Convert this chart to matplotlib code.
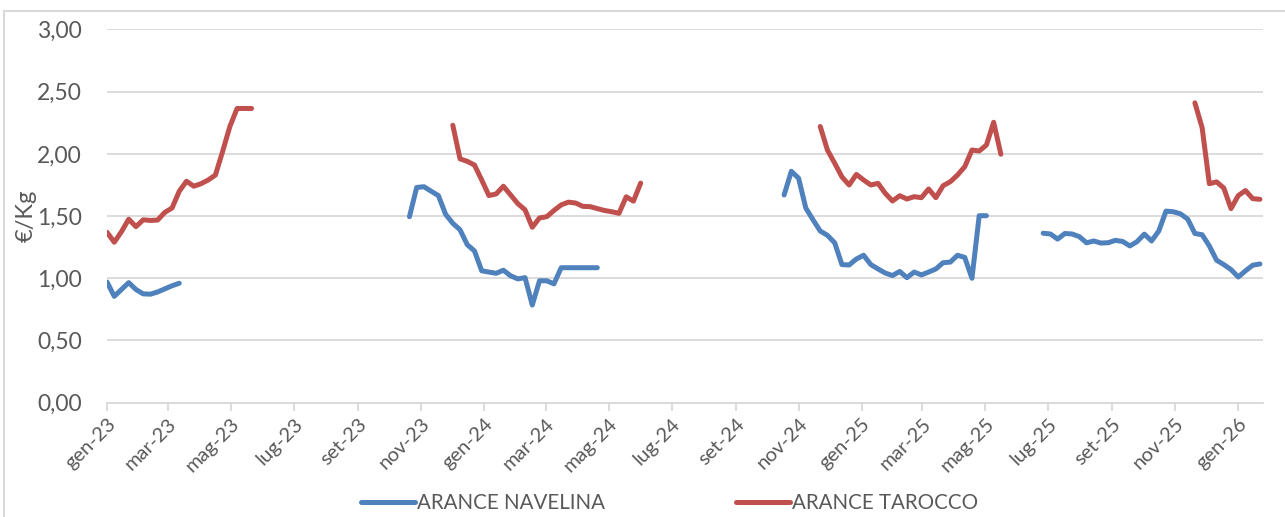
import pandas as pd
import matplotlib.pyplot as plt
import matplotlib.dates as mdates
from matplotlib.ticker import FuncFormatter, MultipleLocator
from matplotlib.patches import Rectangle

# === COLORI / STILE ===
COL_NAV = "#4F81BD"
COL_TAR = "#C0504D"
COL_TXT = "#595959"
COL_GRID = "#D9D9D9"

plt.rcParams.update({
    "font.family": ["Lato", "DejaVu Sans"],
    "font.size": 14,
})

MESI = ["gen", "feb", "mar", "apr", "mag", "giu",
        "lug", "ago", "set", "ott", "nov", "dic"]

# === DATI (prezzi settimanali, €/Kg) ===
# ARANCE NAVELINA: una serie per campagna, con data della prima settimana
nav_start = ["2023-01-01", "2023-10-21", "2024-10-18", "2025-06-26"]
nav_2023 = [0.97, 0.855, 0.91, 0.965, 0.91, 0.875, 0.872, 0.89, 0.915, 0.94, 0.96]
nav_2024 = [1.495, 1.73, 1.736, 1.70, 1.665, 1.515, 1.442, 1.39, 1.27, 1.22,
            1.06, 1.05, 1.04, 1.065, 1.02, 0.995, 1.005, 0.785, 0.98, 0.98,
            0.955, 1.085, 1.085, 1.085, 1.085, 1.085, 1.085]
nav_2025 = [1.67, 1.86, 1.805, 1.565, 1.47, 1.38, 1.345, 1.285, 1.11, 1.107,
            1.155, 1.185, 1.11, 1.075, 1.042, 1.022, 1.055, 1.005, 1.05, 1.027,
            1.05, 1.075, 1.125, 1.13, 1.185, 1.168, 1.0, 1.503, 1.503]
nav_2026 = [1.362, 1.356, 1.315, 1.36, 1.356, 1.335, 1.285, 1.30, 1.283, 1.286,
            1.305, 1.296, 1.26, 1.295, 1.355, 1.30, 1.38, 1.54, 1.535, 1.518,
            1.476, 1.36, 1.35, 1.26, 1.145, 1.11, 1.07, 1.01, 1.06, 1.105, 1.115]

# ARANCE TAROCCO
tar_start = ["2023-01-01", "2023-12-02", "2024-11-22", "2025-11-20"]
tar_2023 = [1.37, 1.29, 1.375, 1.475, 1.415, 1.47, 1.465, 1.468, 1.53, 1.565,
            1.70, 1.78, 1.74, 1.76, 1.79, 1.83, 2.02, 2.22, 2.365, 2.365, 2.365]
tar_2024 = [2.23, 1.96, 1.94, 1.91, 1.79, 1.665, 1.678, 1.74, 1.67, 1.60,
            1.55, 1.41, 1.485, 1.495, 1.545, 1.59, 1.612, 1.605, 1.578, 1.576,
            1.56, 1.545, 1.535, 1.522, 1.655, 1.62, 1.765]
tar_2025 = [2.22, 2.03, 1.925, 1.815, 1.75, 1.835, 1.79, 1.75, 1.763, 1.683,
            1.621, 1.664, 1.637, 1.656, 1.648, 1.718, 1.648, 1.744, 1.776, 1.83,
            1.897, 2.031, 2.023, 2.071, 2.254, 1.997]
tar_2026 = [2.41, 2.21, 1.76, 1.775, 1.725, 1.56, 1.665, 1.705, 1.64, 1.635]

nav_series = [nav_2023, nav_2024, nav_2025, nav_2026]
tar_series = [tar_2023, tar_2024, tar_2025, tar_2026]

# === PLOT ===
fig = plt.figure(figsize=(12.85, 5.17), dpi=100)
ax = fig.add_axes([0.0833, 0.2211, 0.8996, 0.7219])

for i, (start, vals) in enumerate(zip(nav_start, nav_series)):
    d = pd.date_range(start, periods=len(vals), freq="7D")
    ax.plot(d, vals, color=COL_NAV, lw=3.6, solid_capstyle="round",
            solid_joinstyle="round", label="ARANCE NAVELINA" if i == 0 else None)
for i, (start, vals) in enumerate(zip(tar_start, tar_series)):
    d = pd.date_range(start, periods=len(vals), freq="7D")
    ax.plot(d, vals, color=COL_TAR, lw=3.6, solid_capstyle="round",
            solid_joinstyle="round", label="ARANCE TAROCCO" if i == 0 else None)

ax.set_xlim(pd.Timestamp("2023-01-01"), pd.Timestamp("2026-01-25"))
ax.set_ylim(0, 3)
ax.yaxis.set_major_locator(MultipleLocator(0.5))
ax.yaxis.set_major_formatter(FuncFormatter(lambda v, p: f"{v:.2f}".replace(".", ",")))
ax.xaxis.set_major_locator(mdates.MonthLocator(bymonth=[1, 3, 5, 7, 9, 11]))
ax.xaxis.set_major_formatter(FuncFormatter(
    lambda v, p: f"{MESI[mdates.num2date(v).month - 1]}-{mdates.num2date(v).year % 100:02d}"))

ax.grid(axis="y", color=COL_GRID, lw=1.3)
ax.set_axisbelow(True)
for s in ["top", "right", "left"]:
    ax.spines[s].set_visible(False)
ax.spines["bottom"].set_color(COL_GRID)
ax.spines["bottom"].set_linewidth(1.3)
ax.tick_params(axis="y", length=0, pad=18, colors=COL_TXT, labelsize=16.5)
ax.tick_params(axis="x", length=6, width=1.3, colors=COL_TXT,
               labelsize=14.5, pad=3)
ax.tick_params(axis="x", color=COL_GRID)
for lab in ax.get_xticklabels():
    lab.set_rotation(45)
    lab.set_ha("right")
    lab.set_va("top")
    lab.set_rotation_mode("anchor")

ax.set_ylabel("€/Kg", color=COL_TXT, fontsize=17)
ax.yaxis.set_label_coords(-0.0605, 0.5)

fig.legend(loc="center", bbox_to_anchor=(0.521, 0.027), ncol=2, frameon=False,
           handlelength=2.6, handletextpad=0.1, columnspacing=6.4,
           fontsize=14.8, labelcolor=COL_TXT)

# cornice del grafico
fig.patches.append(Rectangle((4 / 1285, -0.05), 1.2, (517 - 11) / 517 + 0.05,
                             transform=fig.transFigure, fill=False,
                             edgecolor=COL_GRID, lw=1.5))

fig.savefig("out.png", dpi=100)
